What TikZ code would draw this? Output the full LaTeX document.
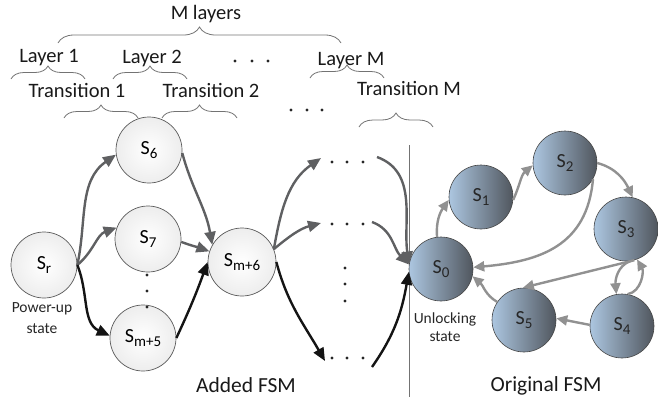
\documentclass[tikz,border=0pt]{standalone}
\usepackage{fontspec}
\setmainfont{Carlito}
\usetikzlibrary{arrows.meta,decorations.pathreplacing}
\definecolor{bluel}{RGB}{172,198,224}
\definecolor{blued}{RGB}{80,86,94}
\definecolor{garr}{RGB}{95,96,98}
\definecolor{oarr}{RGB}{145,145,145}
\definecolor{karr}{RGB}{20,20,20}
\definecolor{brc}{RGB}{115,115,115}
\definecolor{lborder}{RGB}{90,90,90}
\definecolor{bborder}{RGB}{70,70,70}
\newcommand\Snode[1]{S\raisebox{-0.18em}{\fontsize{15}{15}\selectfont #1}}
\begin{document}
\begin{tikzpicture}[x=1pt,y=-1pt,
 lstate/.style={circle,draw=lborder,line width=0.7pt,inner color=white,outer color=gray!14,minimum size=66pt,inner sep=0pt,font=\fontsize{20}{20}\selectfont},
 bstate/.style={circle,draw=bborder,line width=0.6pt,left color=bluel,right color=blued,minimum size=64pt,inner sep=0pt,text=black!85,font=\fontsize{20}{20}\selectfont},
 garrow/.style={draw=garr,line width=2.4pt,-{Triangle[length=13pt,width=11pt]}},
 karrow/.style={draw=karr,line width=2.4pt,-{Triangle[length=13pt,width=11pt]}},
 oarrow/.style={draw=oarr,line width=2.4pt,-{Triangle[length=11pt,width=10pt]}},
 bracestyle/.style={draw=brc,line width=0.8pt,decorate,decoration={brace,amplitude=#1}},
 toplbl/.style={anchor=base,inner sep=0pt,text=black!90,font=\fontsize{20.5}{20.5}\selectfont},
 smalllbl/.style={anchor=base,inner sep=0pt,text=black!85,font=\fontsize{15.5}{15.5}\selectfont},
 biglbl/.style={anchor=base,inner sep=0pt,text=black!90,font=\fontsize{21.5}{21.5}\selectfont},
 dot/.style={fill=black!85}
]
\useasboundingbox (0,0) rectangle (658,397);

% top labels and braces
\node[toplbl] (ml) at (206,19) {M layers};
\draw[bracestyle=16] (58,43) -- (341,43);
\node[toplbl] (l1) at (49,62) {Layer 1};
\node[toplbl] (l2) at (152,63) {Layer 2};
\node[toplbl] (lm) at (351,65) {Layer M};
\draw[bracestyle=13] (11,79) -- (85,79);
\draw[bracestyle=13] (113,79) -- (187,79);
\draw[bracestyle=13] (310,78) -- (384,78);
\foreach \x in {235,252,268} \fill[dot] (\x,61) circle (1.7);
\node[toplbl] (t1) at (77,97) {Transition 1};
\node[toplbl] (t2) at (211,97) {Transition 2};
\node[toplbl] (tm) at (409,95) {Transition M};
\draw[bracestyle=13] (64,118) -- (138,118);
\draw[bracestyle=13] (162,118) -- (237,118);
\draw[bracestyle=14] (359,127) -- (433,127);
\foreach \x in {291,307,322} \fill[dot] (\x,110) circle (1.7);

% separator
\draw[draw=brc,line width=0.9pt] (409,145) -- (409,397);

% added FSM nodes
\node[lstate] (sr) at (44,265) {\Snode{r}};
\node[lstate] (s6) at (149,150) {\Snode{6}};
\node[lstate] (s7) at (148,239) {\Snode{7}};
\node[lstate] (s5m) at (143,338) {\Snode{m+5}};
\node[lstate,minimum size=68pt] (s6m) at (242,262) {\Snode{m+6}};
\foreach \y in {275,291,307} \fill[dot] (147,\y) circle (1.7);

% dot rows
\foreach \x in {332,347,363} {\fill[dot] (\x,162) circle (1.7); \fill[dot] (\x,224) circle (1.7); \fill[dot] (\x,358) circle (1.7);}
\foreach \y in {268,284,301} \fill[dot] (345,\y) circle (1.7);
\coordinate (r1in) at (321,158);
\coordinate (r2in) at (321,223);
\coordinate (r3in) at (325,361);
\coordinate (r1out) at (377,157);
\coordinate (r2out) at (372,222);
\coordinate (r3out) at (372,367);

% original FSM nodes
\node[bstate] (s0) at (441,269) {\Snode{0}};
\node[bstate] (s1) at (481,197) {\Snode{1}};
\node[bstate] (s2) at (565,163) {\Snode{2}};
\node[bstate] (s3) at (626,229) {\Snode{3}};
\node[bstate] (s4) at (622,326) {\Snode{4}};
\node[bstate] (s5) at (524,320) {\Snode{5}};

% labels
\node[smalllbl] (pu1) at (42,312) {Power-up};
\node[smalllbl] (pu2) at (42,333) {state};
\node[smalllbl] (ul1) at (445,323) {Unlocking};
\node[smalllbl] (ul2) at (445,341) {state};
\node[biglbl] (afsm) at (246,392) {Added FSM};
\node[biglbl] (ofsm) at (546,391) {Original FSM};

% added FSM arrows
\draw[garrow] (sr.east) to[out=78,in=215] (s6.188);
\draw[garrow] (sr.east) to[out=40,in=200] (s7.160);
\draw[karrow] (sr.east) to[out=-68,in=155] (s5m.176);
\draw[garrow] (s6.-5) to[out=-75,in=100] (s6m.150);
\draw[garrow] (s7.-5) to[out=-20,in=160] (s6m.162);
\draw[karrow] (s5m.0) to[out=65,in=250] (s6m.180);
\draw[garrow] (s6m.22) to[out=80,in=215] (r1in);
\draw[garrow] (s6m.22) to[out=40,in=195] (r2in);
\draw[karrow] (s6m.0) to[out=-75,in=120] (r3in);
\draw[garrow] (r1out) to[out=-20,in=98] (s0.172);
\draw[garrow] (r2out) to[out=-20,in=135] (s0.172);
\draw[karrow] (r3out) to[out=55,in=260] (s0.185);

% original FSM arrows
\draw[oarrow] (s0.97) to[out=95,in=235] (s1.185);
\draw[oarrow] (s1.-5) to[out=65,in=220] (s2.184);
\draw[oarrow] (s2.0) to[out=-15,in=115] (s3.78);
\draw[oarrow] (s2.-30) to[out=-95,in=5,looseness=1.15] (s0.3);
\draw[oarrow] (s3.-75) -- (s5.92);
\draw[oarrow] (s3.-82) to[out=200,in=95] (s4.100);
\draw[oarrow] (s4.80) to[out=10,in=-60] (s3.-70);
\draw[oarrow] (s4.178) -- (s5.3);
\draw[oarrow] (s5.146) to[out=150,in=-40] (s0.-13);
\end{tikzpicture}
\end{document}
